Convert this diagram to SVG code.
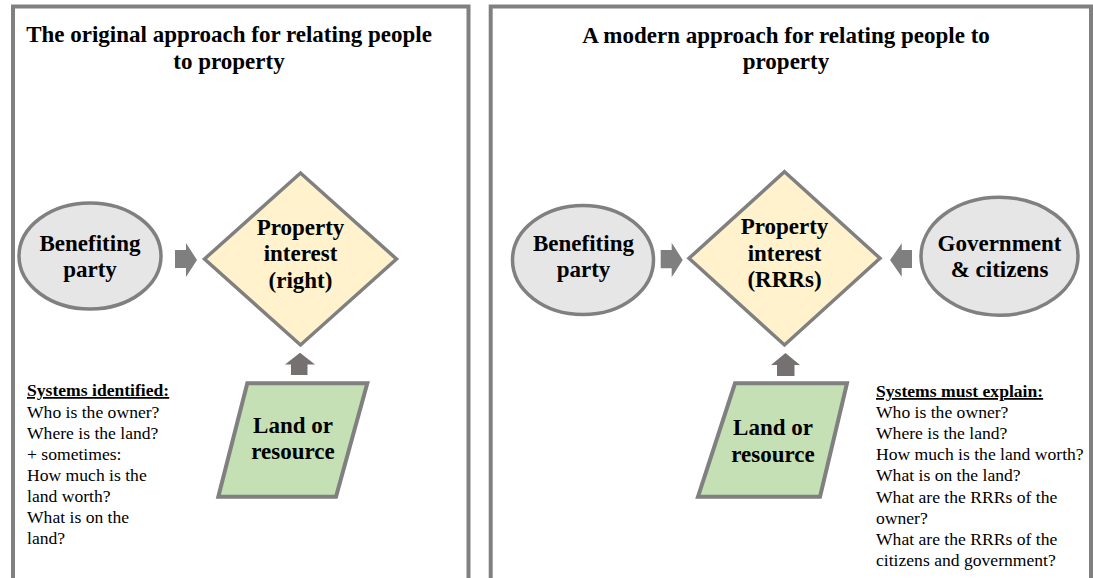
<svg xmlns="http://www.w3.org/2000/svg" width="1093" height="578" viewBox="0 0 1093 578">
<style>
.panel{fill:none;stroke:#808080;stroke-width:4}
text{font-family:'Liberation Serif',Tinos,'DejaVu Serif',serif;fill:#000}
.title{font-size:23px;font-weight:bold;text-anchor:middle}
.lbl{font-size:23px;font-weight:bold;text-anchor:middle}
.body{font-size:17.6px}
.head{font-weight:bold;text-decoration:underline}
.ell{fill:#E7E6E6;stroke:#808080;stroke-width:3.5}
.dia{fill:#FFF2CC;stroke:#808080;stroke-width:3.5}
.par{fill:#C5E0B4;stroke:#808080;stroke-width:4}
.arr{fill:#7F7F7F}
.arrv{fill:#757171}
</style>
<rect x="0" y="0" width="1093" height="578" fill="#FFFFFF"/>
<g id="panel-left">
<path class="panel" d="M13,580 V6.5 H468.5 V580"/>
<text class="title" x="229" y="42">The original approach for relating people</text>
<text class="title" x="229" y="68.5">to property</text>
</g>
<g id="panel-right">
<path class="panel" d="M490.7,580 V6.5 H1091 V580"/>
<text class="title" x="786" y="42.5">A modern approach for relating people to</text>
<text class="title" x="786" y="69">property</text>
</g>
<g id="connectors">
<polygon class="arr" points="175,250 186,250 186,243 197,260 186,277 186,268 175,268"/>
<polygon class="arrv" points="300,352.7 315,364.5 307.5,364.5 307.5,375 291,375 291,364.5 285,364.5"/>
<polygon class="arr" points="660.7,250 671.7,250 671.7,242.7 682.7,260 671.7,277.3 671.7,268.3 660.7,268.3"/>
<polygon class="arr" points="912,250 901.7,250 901.7,243.3 890,260 901.7,276.7 901.7,268 912,268"/>
<polygon class="arrv" points="785.5,353 800,365 794.5,365 794.5,376 777,376 777,365 771,365"/>
</g>
<g id="left-benefiting-party">
<ellipse class="ell" cx="90" cy="256" rx="71" ry="53"/>
<text class="lbl" x="90" y="250.5">Benefiting</text>
<text class="lbl" x="90" y="277">party</text>
</g>
<g id="left-property-interest">
<polygon class="dia" points="300.5,173 396.5,259 300.5,345 204.5,259"/>
<text class="lbl" x="300.5" y="234.5">Property</text>
<text class="lbl" x="300.5" y="261">interest</text>
<text class="lbl" x="300.5" y="287.5">(right)</text>
</g>
<g id="left-land-resource">
<polygon class="par" points="247.3,383.3 367.3,383.3 336,496.7 218.3,496.7"/>
<text class="lbl" x="293" y="432.7">Land or</text>
<text class="lbl" x="293" y="459.3">resource</text>
</g>
<g id="left-systems-text">
<text class="body" x="27" y="396"><tspan class="head">Systems identified:</tspan></text>
<text class="body" x="27" y="417.5">Who is the owner?</text>
<text class="body" x="27" y="438.7">Where is the land?</text>
<text class="body" x="27" y="459.8">+ sometimes:</text>
<text class="body" x="27" y="480.9">How much is the</text>
<text class="body" x="27" y="502">land worth?</text>
<text class="body" x="27" y="523.1">What is on the</text>
<text class="body" x="27" y="544.2">land?</text>
</g>
<g id="right-benefiting-party">
<ellipse class="ell" cx="583" cy="260" rx="70.5" ry="54.5"/>
<text class="lbl" x="583.5" y="250.7">Benefiting</text>
<text class="lbl" x="583.5" y="277.2">party</text>
</g>
<g id="right-property-interest">
<polygon class="dia" points="784.5,171.7 880,258.3 784.5,345 689,258.3"/>
<text class="lbl" x="784.5" y="234.3">Property</text>
<text class="lbl" x="784.5" y="261">interest</text>
<text class="lbl" x="784.5" y="287">(RRRs)</text>
</g>
<g id="right-government-citizens">
<ellipse class="ell" cx="999.5" cy="256.2" rx="78.5" ry="59"/>
<text class="lbl" x="999.5" y="250.7">Government</text>
<text class="lbl" x="999.5" y="277.3">&amp; citizens</text>
</g>
<g id="right-land-resource">
<polygon class="par" points="735,383.3 847,383.3 820,496.7 698,496.7"/>
<text class="lbl" x="773" y="434.5">Land or</text>
<text class="lbl" x="773" y="461.5">resource</text>
</g>
<g id="right-systems-text">
<text class="body" x="876" y="397"><tspan class="head">Systems must explain:</tspan></text>
<text class="body" x="876" y="418.1">Who is the owner?</text>
<text class="body" x="876" y="439.2">Where is the land?</text>
<text class="body" x="876" y="460.3">How much is the land worth?</text>
<text class="body" x="876" y="481.4">What is on the land?</text>
<text class="body" x="876" y="502.5">What are the RRRs of the</text>
<text class="body" x="876" y="523.6">owner?</text>
<text class="body" x="876" y="544.7">What are the RRRs of the</text>
<text class="body" x="876" y="565.8">citizens and government?</text>
</g>
</svg>
